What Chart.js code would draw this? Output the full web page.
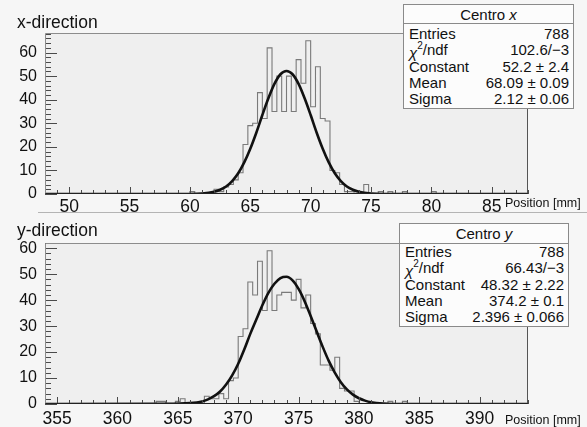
<!DOCTYPE html>
<html>
<head>
<meta charset="utf-8">
<script src="https://cdn.jsdelivr.net/npm/chart.js@4.4.0/dist/chart.umd.min.js"></script>
<style>
  body { margin: 0; background: #f6f6f6; font-family: "Liberation Sans", Arial, sans-serif; color: #111; }
  #wrap { position: relative; width: 587px; height: 427px; overflow: hidden; }
  canvas { position: absolute; left: 0; }
  .title { position: absolute; left: 17px; font-size: 17.5px; line-height: 17px; }
  .unit { position: absolute; left: 505px; font-size: 12.5px; line-height: 13px; }
  .padline { position: absolute; left: 38px; width: 549px; top: 212px; border-top: 1px solid #b4b4b4; }
  .stats { position: absolute; box-sizing: border-box; background: #fcfcfc; border: 1px solid #8a8a8a; font-size: 15px; }
  .stats .hd { text-align: center; border-bottom: 1px solid #8a8a8a; }
  .stats .row { display: flex; justify-content: space-between; padding: 0 4px 0 5px; height: 16.3px; line-height: 16.3px; }
  .stats sup { font-size: 10px; line-height: 0; vertical-align: 6px; }
  .stats i.chi { position: relative; top: 3px; }
</style>
</head>
<body>
<div id="wrap">
  <canvas id="chartX" width="587" height="214" style="top:0"></canvas>
  <canvas id="chartY" width="587" height="214" style="top:210px"></canvas>
  <div class="padline"></div>
  <div class="title" style="top:14px">x-direction</div>
  <div class="title" style="top:222px">y-direction</div>
  <div class="unit" style="top:197px">Position [mm]</div>
  <div class="unit" style="top:414px">Position [mm]</div>
  <div class="stats" id="statsX" style="left:403px;top:4px;width:171px;height:105px"></div>
  <div class="stats" id="statsY" style="left:399px;top:223px;width:170px;height:104px"></div>
</div>
<script>
// histogramme: 100 bins de 0,4 mm
const binWidth = 0.4;

// x-direction
const xLow = 48, xHigh = 88;
const xCounts = [
  0, 0, 0, 0, 0, 0, 0, 0, 0, 0,
  0, 0, 0, 0, 0, 0, 0, 0, 0, 0,
  0, 0, 0, 0, 0, 0, 0, 0, 0, 0,
  1, 0, 0, 0, 0, 2, 1, 3, 4, 6,
  9, 21, 29, 30, 43, 32, 62, 35, 50, 35,
  50, 35, 57, 47, 65, 37, 54, 32, 31, 10,
  9, 4, 1, 1, 0, 0, 4, 0, 0, 1,
  0, 1, 0, 0, 1, 0, 0, 0, 0, 0,
  1, 0, 0, 0, 0, 0, 0, 0, 0, 0,
  0, 0, 0, 0, 0, 0, 0, 0, 0, 0
];
// ajuste gaussiano
const xFitPos = [48, 60, 61, 62, 62.5, 63, 63.5, 64, 64.5, 65, 65.5, 66, 66.5, 67, 67.5, 68,
                 68.5, 69, 69.5, 70, 70.5, 71, 71.5, 72, 72.5, 73, 73.5, 74, 75, 76, 88];
const xFitVal = [0, 0.03, 0.2, 0.95, 1.8, 3.2, 5.5, 8.8, 13.4, 19.2, 26.0, 33.5, 40.6, 46.7, 50.8, 52.2,
                 50.8, 46.7, 40.6, 33.5, 26.0, 19.2, 13.4, 8.8, 5.5, 3.2, 1.8, 0.95, 0.2, 0, 0];
const xTickVals = [50, 55, 60, 65, 70, 75, 80, 85];
const xYMax = 68.3;
const xStatNames = ['Entries', '<i class="chi">χ</i><sup>2</sup>/ndf', 'Constant', 'Mean', 'Sigma'];
const xStatVals = ['788', '102.6/−3', '52.2 ± 2.4', '68.09 ± 0.09', '2.12 ± 0.06'];

// y-direction
const yLow = 354, yHigh = 394;
const yCounts = [
  0, 0, 0, 0, 0, 0, 0, 0, 0, 0,
  0, 0, 0, 0, 0, 0, 0, 0, 0, 0,
  0, 0, 0, 1, 1, 0, 0, 1, 2, 0,
  0, 0, 0, 3, 2, 2, 4, 2, 9, 10,
  26, 29, 47, 42, 55, 36, 59, 36, 42, 43,
  43, 40, 48, 37, 42, 31, 27, 15, 15, 13,
  18, 6, 5, 5, 1, 0, 0, 0, 0, 0,
  0, 1, 0, 0, 1, 0, 0, 0, 0, 0,
  0, 0, 0, 0, 0, 0, 0, 0, 0, 0,
  0, 0, 0, 0, 0, 0, 0, 0, 0, 0
];
const yFitPos = [354, 364, 366, 367, 367.5, 368, 368.5, 369, 369.5, 370, 370.5, 371, 371.5, 372, 372.5,
                 373, 373.5, 374, 374.5, 375, 375.5, 376, 376.5, 377, 377.5, 378, 378.5, 379, 379.5,
                 380, 380.5, 381, 382, 384, 394];
const yFitVal = [0, 0.05, 0.35, 1.0, 1.8, 3.0, 4.8, 7.5, 11.0, 15.5, 21.0, 27.0, 32.5, 38.0, 42.8,
                 46.3, 48.5, 49.0, 47.6, 44.3, 39.6, 33.9, 27.9, 22.0, 16.6, 12.1, 8.4, 5.6, 3.6,
                 2.2, 1.3, 0.7, 0.2, 0, 0];
const yTickVals = [355, 360, 365, 370, 375, 380, 385, 390];
const yYMax = 62;
const yStatNames = xStatNames;
const yStatVals = ['788', '66.43/−3', '48.32 ± 2.22', '374.2 ± 0.1', '2.396 ± 0.066'];

const countTicks = [0, 10, 20, 30, 40, 50, 60];
const fontFamily = '"Liberation Sans", Arial, sans-serif';

function fillStats(id, title, names, vals, padTop) {
  let html = `<div class="hd" style="height:${18 + (padTop ? 0 : 1)}px;line-height:19px">Centro <i>${title}</i></div>`;
  html += `<div style="height:${padTop}px"></div>`;
  names.forEach((n, i) => {
    html += `<div class="row"><span>${n}</span><span>${vals[i]}</span></div>`;
  });
  document.getElementById(id).innerHTML = html;
}
fillStats('statsX', 'x', xStatNames, xStatVals, 2);
fillStats('statsY', 'y', yStatNames, yStatVals, 0);

// fundo, moldura e marcas dos eixos no estilo ROOT
const rootFrame = {
  id: 'rootFrame',
  beforeDraw(chart) {
    const { ctx, chartArea: a } = chart;
    ctx.save();
    ctx.fillStyle = '#efefef';
    ctx.fillRect(a.left, a.top, a.right - a.left, a.bottom - a.top);
    ctx.restore();
  },
  afterDatasetsDraw(chart) {
    const { ctx, chartArea: a, scales: { x, y } } = chart;
    ctx.save();
    ctx.lineWidth = 1;
    ctx.strokeStyle = '#4a4a4a';
    ctx.beginPath();
    for (let v = Math.ceil(x.min); v <= x.max; v++) {
      const px = Math.round(x.getPixelForValue(v)) + 0.5;
      const len = v % 5 === 0 ? 7 : 4;
      ctx.moveTo(px, a.bottom);
      ctx.lineTo(px, a.bottom - len);
    }
    for (let v = 0; v <= y.max; v += 2) {
      const py = Math.round(y.getPixelForValue(v)) + 0.5;
      const len = v % 10 === 0 ? 12 : 6;
      ctx.moveTo(a.left, py);
      ctx.lineTo(a.left + len, py);
    }
    ctx.stroke();

    const L = Math.round(a.left) + 0.5, R = Math.round(a.right) - 0.5;
    const T = Math.round(a.top) + 0.5, B = Math.round(a.bottom) - 0.5;
    ctx.strokeStyle = '#8c8c8c';
    ctx.beginPath();
    ctx.moveTo(L, B); ctx.lineTo(L, T); ctx.lineTo(R, T);
    ctx.stroke();
    ctx.strokeStyle = '#555';
    ctx.beginPath();
    ctx.moveTo(R, T); ctx.lineTo(R, B);
    ctx.stroke();
    ctx.strokeStyle = '#222';
    ctx.beginPath();
    ctx.moveTo(L, B); ctx.lineTo(R, B);
    ctx.stroke();
    ctx.restore();
  }
};

function makeChart(canvasId, lo, hi, counts, fitPos, fitVal, tickVals, yMax, labelPad) {
  const histPts = counts.map((c, i) => ({ x: lo + i * binWidth, y: c }));
  histPts.push({ x: hi, y: counts[counts.length - 1] });
  const fitPts = fitPos.map((p, i) => ({ x: p, y: fitVal[i] }));

  return new Chart(document.getElementById(canvasId), {
    type: 'line',
    data: {
      datasets: [{
        label: 'ajuste',
        data: fitPts,
        borderColor: '#111',
        borderWidth: 2.6,
        pointRadius: 0,
        cubicInterpolationMode: 'monotone',
        fill: false
      }, {
        label: 'histograma',
        data: histPts,
        borderColor: '#7a7a7a',
        borderWidth: 1.1,
        pointRadius: 0,
        stepped: 'before',
        fill: false
      }]
    },
    options: {
      responsive: false,
      animation: false,
      devicePixelRatio: 1,
      layout: { padding: { top: 33, right: 59, bottom: 0, left: 0 } },
      plugins: { legend: { display: false }, tooltip: { enabled: false } },
      scales: {
        x: {
          type: 'linear',
          min: lo,
          max: hi,
          grid: { display: false, drawTicks: false },
          border: { display: false },
          afterBuildTicks: s => { s.ticks = tickVals.map(v => ({ value: v })); },
          afterFit: s => { s.height = 20; },
          ticks: {
            autoSkip: false,
            maxRotation: 0,
            padding: labelPad,
            color: '#111',
            font: { family: fontFamily, size: 17.5 }
          }
        },
        y: {
          min: 0,
          max: yMax,
          grid: { display: false, drawTicks: false },
          border: { display: false },
          afterBuildTicks: s => { s.ticks = countTicks.map(v => ({ value: v })); },
          afterFit: s => { s.width = 45; },
          ticks: {
            padding: 8,
            color: '#111',
            font: { family: fontFamily, size: 16 }
          }
        }
      }
    },
    plugins: [rootFrame]
  });
}

makeChart('chartX', xLow, xHigh, xCounts, xFitPos, xFitVal, xTickVals, xYMax, 3);
makeChart('chartY', yLow, yHigh, yCounts, yFitPos, yFitVal, yTickVals, yYMax, 5);
</script>
</body>
</html>
